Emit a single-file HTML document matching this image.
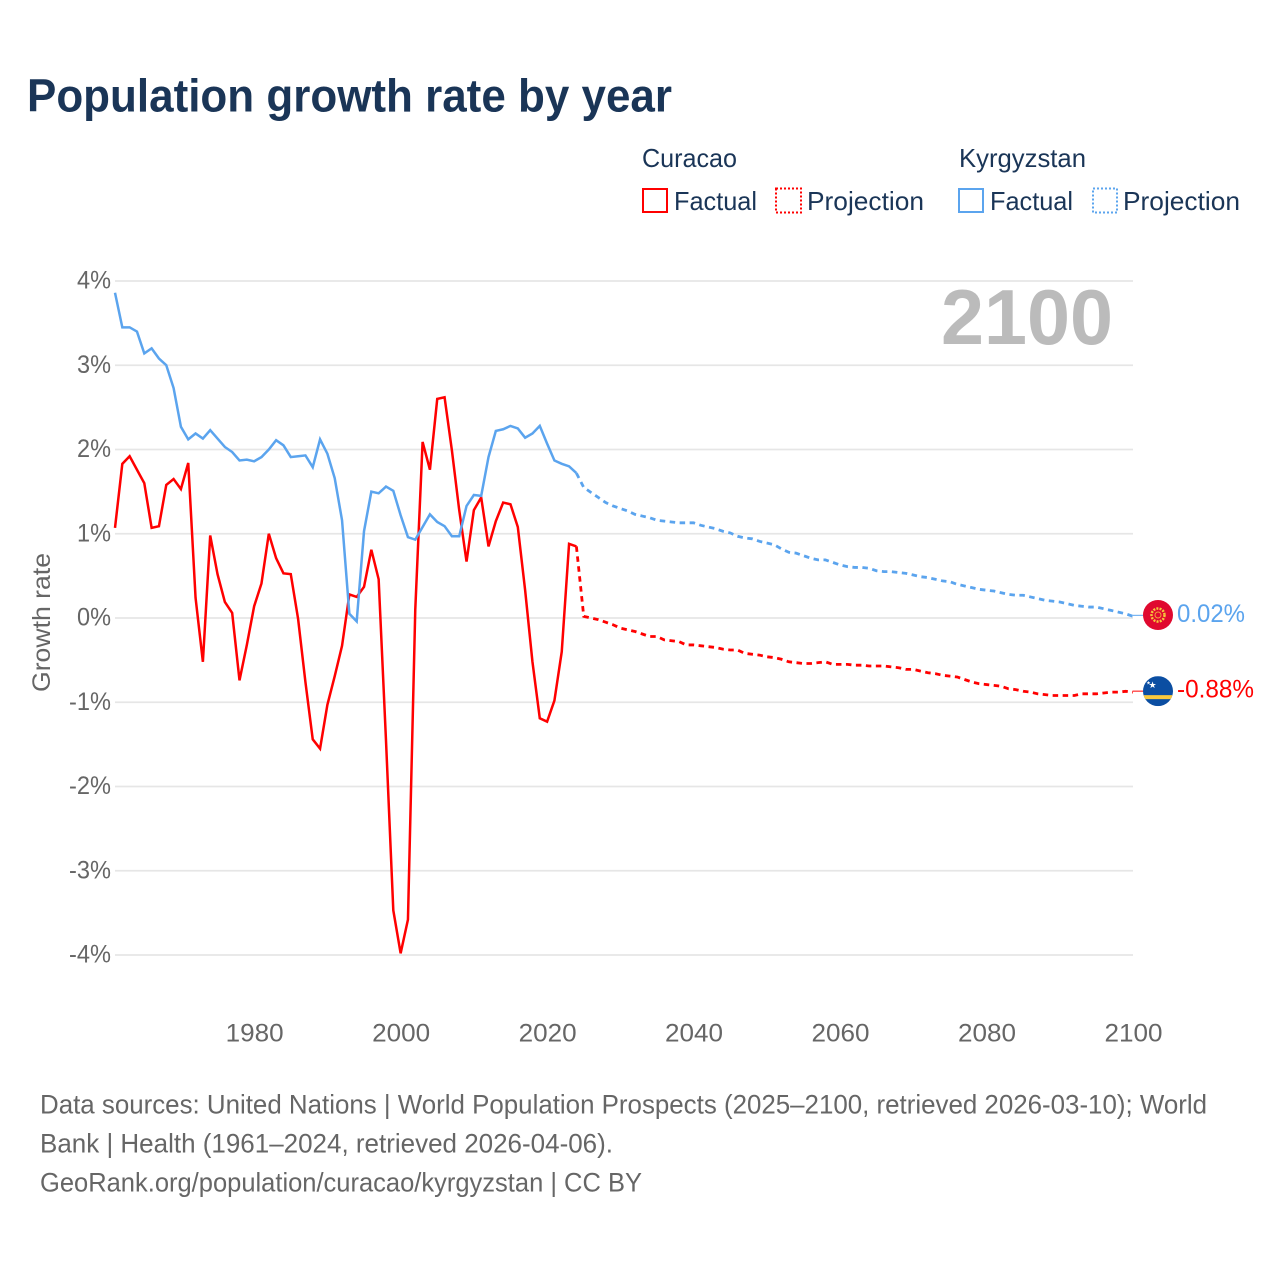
<!DOCTYPE html>
<html lang="en">
<head>
<meta charset="utf-8">
<title>Population growth rate by year</title>
<style>
html,body{margin:0;padding:0;background:#fff;}
svg{display:block;font-family:"Liberation Sans",sans-serif;}
</style>
</head>
<body>
<svg id="chart" xmlns="http://www.w3.org/2000/svg" width="1280" height="1280" viewBox="0 0 1280 1280">
<rect x="0" y="0" width="1280" height="1280" fill="#ffffff"/>
<text x="27" y="111.500" font-size="46" font-weight="700" fill="#1a3557" textLength="645" lengthAdjust="spacingAndGlyphs">Population growth rate by year</text>

<g font-size="26" fill="#1a3557">
<text x="642" y="167" textLength="95" lengthAdjust="spacingAndGlyphs">Curacao</text>
<text x="959" y="167" textLength="127" lengthAdjust="spacingAndGlyphs">Kyrgyzstan</text>
<rect x="643" y="189" width="24" height="23" fill="none" stroke="#ff0000" stroke-width="2"/>
<text x="674" y="210" textLength="83" lengthAdjust="spacingAndGlyphs">Factual</text>
<rect x="776" y="188.500" width="25" height="24" fill="none" stroke="#ff0000" stroke-width="2" stroke-dasharray="2 2"/>
<text x="807" y="210" textLength="117" lengthAdjust="spacingAndGlyphs">Projection</text>
<rect x="959" y="189" width="24" height="23" fill="none" stroke="#5ba4ee" stroke-width="2"/>
<text x="990" y="210" textLength="83" lengthAdjust="spacingAndGlyphs">Factual</text>
<rect x="1093" y="188.500" width="24" height="24" fill="none" stroke="#5ba4ee" stroke-width="2" stroke-dasharray="2 2"/>
<text x="1123" y="210" textLength="117" lengthAdjust="spacingAndGlyphs">Projection</text>
</g>

<g id="grid"></g>
<g id="yticks"></g>
<g id="xticks"></g>
<text transform="translate(50,692) rotate(-90)" font-size="25" fill="#666666" textLength="139" lengthAdjust="spacingAndGlyphs">Growth rate</text>
<text x="941" y="344" font-size="78" font-weight="700" fill="#bbbbbb" textLength="172" lengthAdjust="spacingAndGlyphs">2100</text>
<g id="series"></g>
<g id="ends"></g>

<g font-size="27" fill="#666666">
<text x="40" y="1113.500" textLength="1167" lengthAdjust="spacingAndGlyphs">Data sources: United Nations | World Population Prospects (2025–2100, retrieved 2026-03-10); World</text>
<text x="40" y="1152.500" textLength="573" lengthAdjust="spacingAndGlyphs">Bank | Health (1961–2024, retrieved 2026-04-06).</text>
<text x="40" y="1191.500" textLength="602" lengthAdjust="spacingAndGlyphs">GeoRank.org/population/curacao/kyrgyzstan | CC BY</text>
</g>
</svg>
<script>
const firstYear = 1961;
const projectionStartYear = 2025;
const yTickValues = [4, 3, 2, 1, 0, -1, -2, -3, -4];
const yTickLabels = ["4%", "3%", "2%", "1%", "0%", "-1%", "-2%", "-3%", "-4%"];
const xTickYears = [1980, 2000, 2020, 2040, 2060, 2080, 2100];
const curacaoFactual = [1.07,1.83,1.92,1.76,1.60,1.07,1.09,1.58,1.65,1.53,1.84,0.24,-0.52,0.98,0.52,0.19,0.06,-0.74,-0.32,0.14,0.41,1.00,0.71,0.53,0.52,-0.01,-0.76,-1.44,-1.55,-1.03,-0.69,-0.33,0.28,0.25,0.37,0.81,0.46,-1.45,-3.47,-3.98,-3.58,0.10,2.09,1.76,2.60,2.62,1.99,1.28,0.67,1.28,1.43,0.85,1.15,1.37,1.35,1.08,0.33,-0.52,-1.19,-1.23,-0.98,-0.40,0.88,0.85];
const kyrgyzstanFactual = [3.86,3.45,3.45,3.40,3.14,3.20,3.08,3.00,2.73,2.27,2.12,2.19,2.13,2.23,2.13,2.03,1.97,1.87,1.88,1.86,1.91,2.00,2.11,2.05,1.91,1.92,1.93,1.79,2.12,1.95,1.66,1.16,0.05,-0.04,1.03,1.50,1.48,1.56,1.51,1.22,0.96,0.93,1.08,1.23,1.14,1.09,0.97,0.97,1.33,1.46,1.45,1.91,2.22,2.24,2.28,2.25,2.14,2.19,2.28,2.07,1.87,1.83,1.80,1.72];
const curacaoProjection = [0.02,0.00,-0.02,-0.05,-0.08,-0.12,-0.14,-0.16,-0.19,-0.22,-0.22,-0.26,-0.27,-0.28,-0.32,-0.32,-0.33,-0.34,-0.35,-0.37,-0.38,-0.38,-0.42,-0.43,-0.44,-0.46,-0.47,-0.49,-0.52,-0.53,-0.54,-0.54,-0.53,-0.52,-0.55,-0.55,-0.55,-0.56,-0.56,-0.57,-0.57,-0.57,-0.58,-0.59,-0.61,-0.61,-0.63,-0.65,-0.66,-0.68,-0.69,-0.70,-0.73,-0.76,-0.78,-0.79,-0.80,-0.81,-0.84,-0.85,-0.87,-0.88,-0.90,-0.91,-0.92,-0.92,-0.92,-0.92,-0.90,-0.90,-0.90,-0.89,-0.88,-0.88,-0.87,-0.88];
const kyrgyzstanProjection = [1.55,1.49,1.43,1.37,1.33,1.30,1.27,1.23,1.21,1.19,1.16,1.15,1.14,1.13,1.13,1.13,1.10,1.08,1.06,1.03,1.01,0.97,0.95,0.94,0.91,0.89,0.87,0.82,0.78,0.77,0.74,0.71,0.69,0.69,0.66,0.63,0.61,0.60,0.60,0.59,0.56,0.55,0.55,0.54,0.53,0.51,0.49,0.48,0.46,0.44,0.43,0.40,0.38,0.36,0.34,0.33,0.32,0.30,0.28,0.27,0.27,0.25,0.23,0.21,0.20,0.19,0.17,0.15,0.14,0.13,0.13,0.11,0.09,0.07,0.05,0.02];

const NS = 'http://www.w3.org/2000/svg';
const RED = '#ff0000';
const BLUE = '#5ba4ee';
const X0 = 115, X1 = 1133, Y_ZERO = 618, PX_PER_PCT = 84.25;
function xScale(year) { return X0 + (year - firstYear) * (X1 - X0) / (2100 - firstYear); }
function yScale(v) { return Y_ZERO - v * PX_PER_PCT; }
function make(tag, attrs, parent, txt) {
  const el = document.createElementNS(NS, tag);
  for (const k in attrs) el.setAttribute(k, attrs[k]);
  if (txt !== undefined) el.textContent = txt;
  parent.appendChild(el);
  return el;
}
const gridG = document.getElementById('grid');


const yG = document.getElementById('yticks');


const xG = document.getElementById('xticks');


const seriesG = document.getElementById('series');


const endsG = document.getElementById('ends');



yTickValues.forEach(function (v, i) {
  const line = make('line', {x1: X0, x2: X1, y1: yScale(v), y2: yScale(v), stroke: '#e6e6e6', 'stroke-width': 1.8}, gridG);
  
  
  const t = make('text', {x: 111, y: yScale(v) + 7.500, 'text-anchor': 'end', 'font-size': 25, fill: '#666666', textLength: yTickLabels[i].length === 2 ? 34 : 42, lengthAdjust: 'spacingAndGlyphs'}, yG, yTickLabels[i]);
  
  
});
xTickYears.forEach(function (yr) {
  const t = make('text', {x: xScale(yr) + 0.500, y: 1041.500, 'text-anchor': 'middle', 'font-size': 25, fill: '#666666', textLength: 58, lengthAdjust: 'spacingAndGlyphs'}, xG, String(yr));
  
  
});
function pathFrom(values, startYear) {
  return values.map(function (v, i) {
    return (i ? 'L' : 'M') + xScale(startYear + i).toFixed(2) + ' ' + yScale(v).toFixed(2);
  }).join(' ');
}
function drawFactual(values, color) {
  return make('path', {d: pathFrom(values, firstYear), fill: 'none', stroke: color, 'stroke-width': 2.500, 'stroke-linejoin': 'miter'}, seriesG);
}
function drawProjection(factual, values, color) {
  const joined = [factual[factual.length - 1]].concat(values);
  return make('path', {d: pathFrom(joined, projectionStartYear - 1), fill: 'none', stroke: color, 'stroke-width': 2.800, 'stroke-dasharray': '5.5 4.5'}, seriesG);
}
const l1 = drawProjection(kyrgyzstanFactual, kyrgyzstanProjection, BLUE);


const l2 = drawProjection(curacaoFactual, curacaoProjection, RED);


const l3 = drawFactual(curacaoFactual, RED);


const l4 = drawFactual(kyrgyzstanFactual, BLUE);



const defs = make('defs', {}, endsG);
const clip1 = make('clipPath', {id: 'clipCuracao'}, defs);
make('circle', {cx: 0, cy: 0, r: 15}, clip1);

const kyVal = kyrgyzstanProjection[kyrgyzstanProjection.length - 1];
const cuVal = curacaoProjection[curacaoProjection.length - 1];
const kyY = yScale(kyVal);
const cuY = yScale(cuVal);

const c1 = make('line', {x1: X1, x2: 1143, y1: kyY - 1, y2: kyY - 1, stroke: BLUE, 'stroke-width': 1}, endsG);


const c2 = make('line', {x1: X1, x2: 1143, y1: cuY - 1, y2: cuY - 1, stroke: RED, 'stroke-width': 1}, endsG);



const kyFlag = make('g', {transform: 'translate(1158,' + (kyY - 1.3).toFixed(2) + ')'}, endsG);


make('circle', {cx: 0, cy: 0, r: 15, fill: '#e0092f'}, kyFlag);
make('circle', {cx: 0, cy: 0, r: 6.500, fill: 'none', stroke: '#f5c93a', 'stroke-width': 2.500, 'stroke-dasharray': '2 1.200'}, kyFlag);
make('circle', {cx: 0, cy: 0, r: 3, fill: 'none', stroke: '#f2a23a', 'stroke-width': 1}, kyFlag);

const cuFlag = make('g', {transform: 'translate(1158,' + (cuY - 1).toFixed(2) + ')'}, endsG);


const cuInner = make('g', {'clip-path': 'url(#clipCuracao)'}, cuFlag);
make('rect', {x: -15, y: -15, width: 30, height: 30, fill: '#0b4ea2'}, cuInner);
make('rect', {x: -15, y: 4, width: 30, height: 4, fill: '#f9c93e'}, cuInner);
make('text', {x: -5.500, y: -3, 'font-size': 9, 'text-anchor': 'middle', fill: '#ffffff'}, cuFlag, '★');
make('text', {x: -9.500, y: -6.500, 'font-size': 5, 'text-anchor': 'middle', fill: '#ffffff'}, cuFlag, '★');

const kyLabel = make('text', {x: 1177, y: kyY + 5.500, 'font-size': 25, fill: BLUE, textLength: 68, lengthAdjust: 'spacingAndGlyphs'}, endsG, kyVal.toFixed(2) + '%');


const cuLabel = make('text', {x: 1177, y: cuY + 5.500, 'font-size': 25, fill: RED, textLength: 77, lengthAdjust: 'spacingAndGlyphs'}, endsG, cuVal.toFixed(2) + '%');


</script>
</body>
</html>
